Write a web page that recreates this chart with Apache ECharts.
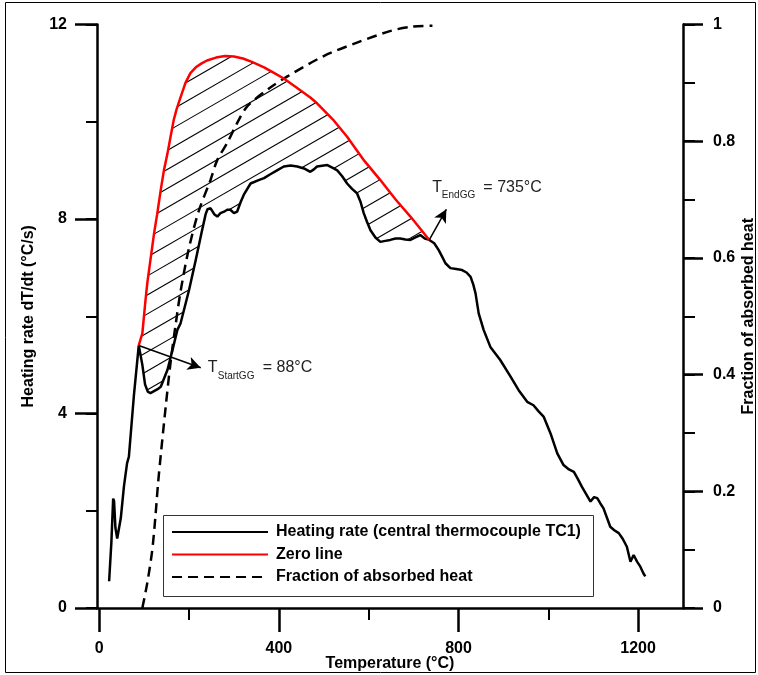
<!DOCTYPE html>
<html><head><meta charset="utf-8">
<script src="https://cdn.jsdelivr.net/npm/echarts@6/dist/echarts.min.js"></script>
<style>html,body{margin:0;padding:0;background:#fff}#c{width:758px;height:675px}</style>
</head><body><div id="c"></div>
<script>
// ---- data ----
const heatT = [22,27,31,33,36,40,48,55,62,66,77,88,96,102,108,114,120,130,137,152,163,174,181,200,215,229,237,241,248,256,263,270,278,285,292,300,307,315,322,337,355,367,381,396,411,426,441,456,470,478,485,500,508,520,530,541,552,563,574,582,589,596,604,615,626,637,648,660,670,682,693,704,715,725,735,746,756,765,771,782,795,808,818,827,833,838,845,856,871,893,916,934,953,967,978,990,1005,1020,1034,1046,1057,1066,1075,1094,1102,1109,1116,1123,1138,1147,1157,1166,1175,1183,1190,1198,1205,1212,1216];
const heatV = [0.55,1.35,2.25,2.2,1.65,1.43,1.85,2.5,2.98,3.11,4.35,5.4,5.0,4.6,4.45,4.42,4.45,4.5,4.55,4.9,5.3,5.72,5.85,6.54,7.16,7.77,8.1,8.2,8.22,8.1,8.05,8.12,8.15,8.19,8.19,8.12,8.15,8.35,8.5,8.73,8.8,8.84,8.92,9.0,9.08,9.1,9.08,9.04,8.97,9.02,9.08,9.1,9.11,9.05,9.0,8.88,8.73,8.62,8.53,8.35,8.12,7.95,7.77,7.62,7.53,7.55,7.57,7.6,7.6,7.58,7.57,7.62,7.67,7.6,7.57,7.5,7.36,7.2,7.09,6.99,6.97,6.95,6.9,6.81,6.65,6.47,6.06,5.72,5.37,5.1,4.76,4.48,4.24,4.17,4.05,3.93,3.59,3.18,2.94,2.85,2.8,2.65,2.49,2.19,2.28,2.26,2.15,2.05,1.67,1.6,1.54,1.42,1.26,0.95,1.09,0.95,0.85,0.71,0.65];

const zeroT = [88,96,103,107,114,122,129,137,144,152,159,166,172,181,192,203,215,228,240,260,280,300,320,340,367,390,411,440,470,485,520,552,590,626,660,693,715,735];
const zeroV = [5.4,5.65,6.33,6.68,7.16,7.7,8.1,8.6,9.0,9.35,9.7,10.04,10.25,10.5,10.8,11.0,11.12,11.2,11.26,11.32,11.35,11.34,11.3,11.23,11.12,11.0,10.89,10.7,10.5,10.38,10.05,9.69,9.2,8.8,8.4,8.05,7.8,7.57];

const fracT = [96,107,118,125,131,137,148,159,170,181,199,221,248,263,285,307,330,381,419,500,574,649,693,742];
const fracV = [0,0.043,0.099,0.156,0.214,0.262,0.345,0.422,0.485,0.542,0.614,0.679,0.734,0.768,0.797,0.831,0.86,0.892,0.911,0.946,0.969,0.989,0.996,0.998];

const xMajorTicks = [0,400,800,1200];
const xMinorTicks = [200,600,1000];
const tStart = 88, vStart = 5.4, tEnd = 735, vEnd = 7.57;
const startArrowTip = [226, 4.94];
const endArrowTip = [773, 8.2];

const names = ['Heating rate (central thermocouple TC1)', 'Zero line', 'Fraction of absorbed heat'];

// ---- build ----
const FONT = '"Liberation Sans", Arial, Helvetica, sans-serif';
const pairs = (a, b) => a.map((t, i) => [t, b[i]]);

const hatchPoly = [];
zeroT.forEach((t, i) => { if (t >= tStart && t <= tEnd) hatchPoly.push([t, zeroV[i]]); });
for (let i = heatT.length - 1; i >= 0; i--) if (heatT[i] >= tStart && heatT[i] <= tEnd) hatchPoly.push([heatT[i], heatV[i]]);

function renderHatch(params, api) {
  const pts = hatchPoly.map(p => api.coord(p));
  const k = Math.tan(Math.PI / 6);
  const s = pts.map(p => p[1] + k * p[0]);
  const cmin = Math.min.apply(null, s), cmax = Math.max.apply(null, s);
  const step = 19;
  const children = [];
  for (let c = Math.ceil(cmin / step) * step; c < cmax; c += step) {
    const xs = [];
    for (let i = 0; i < pts.length; i++) {
      const j = (i + 1) % pts.length;
      const s1 = s[i] - c, s2 = s[j] - c;
      if ((s1 < 0 && s2 >= 0) || (s1 >= 0 && s2 < 0)) {
        const t = s1 / (s1 - s2);
        xs.push(pts[i][0] + t * (pts[j][0] - pts[i][0]));
      }
    }
    xs.sort((a, b) => a - b);
    for (let m = 0; m + 1 < xs.length; m += 2) {
      children.push({type: 'line', shape: {x1: xs[m], y1: c - k * xs[m], x2: xs[m + 1], y2: c - k * xs[m + 1]},
        style: {stroke: '#000', lineWidth: 1.1}});
    }
  }
  return {type: 'group', children};
}

const axisLbl = {fontFamily: FONT, fontWeight: 'bold', fontSize: 16, color: '#000'};
const nameSty = {fontFamily: FONT, fontWeight: 'bold', fontSize: 16, color: '#000'};
const lineSty = {color: '#000', width: 2.5};

const chart = echarts.init(document.getElementById('c'), null, {renderer: 'canvas'});
const option = {
  animation: false,
  backgroundColor: '#fff',
  grid: {left: 97, right: 75, top: 24.5, bottom: 67, containLabel: false, outerBoundsMode: 'none'},
  xAxis: [
    {type: 'value', min: -5, max: 1300, position: 'bottom',
     axisLine: {show: true, onZero: false, lineStyle: lineSty},
     axisTick: {show: true, customValues: xMajorTicks, length: 24, lineStyle: lineSty},
     axisLabel: {show: true, customValues: xMajorTicks, margin: 33, formatter: v => String(v), ...axisLbl},
     splitLine: {show: false},
     name: 'Temperature (°C)', nameLocation: 'middle', nameGap: 48, nameMoveOverlap: false, nameTextStyle: nameSty},
    {type: 'value', min: -5, max: 1300, position: 'bottom',
     axisLine: {show: false, onZero: false},
     axisTick: {show: true, customValues: xMinorTicks, length: 12, lineStyle: {color: '#000', width: 2}},
     axisLabel: {show: false}, splitLine: {show: false}}
  ],
  yAxis: [
    {type: 'value', min: 0, max: 12, interval: 4, position: 'left',
     axisLine: {show: true, onZero: false, lineStyle: lineSty},
     axisTick: {show: true, length: 22, lineStyle: lineSty},
     axisLabel: {margin: 30, ...axisLbl}, splitLine: {show: false},
     name: 'Heating rate dT/dt (°C/s)', nameLocation: 'middle', nameGap: 60, nameRotate: 90, nameMoveOverlap: false, nameTextStyle: nameSty},
    {type: 'value', min: 0, max: 12, interval: 2, position: 'left',
     axisLine: {show: false, onZero: false},
     axisTick: {show: true, length: 11, lineStyle: {color: '#000', width: 2}},
     axisLabel: {show: false}, splitLine: {show: false}},
    {type: 'value', min: 0, max: 1, interval: 0.2, position: 'right',
     axisLine: {show: true, onZero: false, lineStyle: lineSty},
     axisTick: {show: true, length: 20, lineStyle: lineSty},
     axisLabel: {margin: 30, ...axisLbl}, splitLine: {show: false},
     name: 'Fraction of absorbed heat', nameLocation: 'middle', nameGap: 58, nameRotate: 90, nameMoveOverlap: false, nameTextStyle: nameSty},
    {type: 'value', min: 0, max: 1, interval: 0.1, position: 'right',
     axisLine: {show: false, onZero: false},
     axisTick: {show: true, length: 12, lineStyle: {color: '#000', width: 2}},
     axisLabel: {show: false}, splitLine: {show: false}}
  ],
  legend: {
    data: names, orient: 'vertical', left: 166, top: 519, padding: 5, itemWidth: 96, itemHeight: 14, itemGap: 6.5,
    selectedMode: false, itemStyle: {opacity: 0},
    textStyle: {fontFamily: FONT, fontWeight: 'bold', fontSize: 16, color: '#000', padding: [0, 0, 0, 3]}
  },
  series: [
    {type: 'custom', name: 'hatch', xAxisIndex: 0, yAxisIndex: 0, data: [[tStart, vStart]], renderItem: renderHatch, silent: true, z: 1, clip: false},
    {type: 'line', name: names[0], xAxisIndex: 0, yAxisIndex: 0, data: pairs(heatT, heatV), symbol: 'none', showSymbol: false,
     lineStyle: {color: '#000', width: 2.5}, itemStyle: {color: '#000'}, z: 3,
     markLine: {silent: true, symbol: ['none', 'arrow'], symbolSize: [10, 13], label: {show: false},
       lineStyle: {color: '#000', width: 1.5, type: 'solid'},
       data: [[{coord: [tStart, vStart]}, {coord: startArrowTip}], [{coord: [tEnd, vEnd]}, {coord: endArrowTip}]]}},
    {type: 'line', name: names[1], xAxisIndex: 0, yAxisIndex: 0, data: pairs(zeroT, zeroV), symbol: 'none', showSymbol: false,
     lineStyle: {color: '#ff0000', width: 2.5}, itemStyle: {color: '#ff0000'}, z: 4},
    {type: 'line', name: names[2], xAxisIndex: 0, yAxisIndex: 2, data: pairs(fracT, fracV), symbol: 'none', showSymbol: false, smooth: 0.3,
     lineStyle: {color: '#000', width: 2.5, type: [10, 6]}, itemStyle: {color: '#000'}, z: 2}
  ]
};
chart.setOption(option);

const ps = chart.convertToPixel({gridIndex: 0}, startArrowTip);
const pe = chart.convertToPixel({gridIndex: 0}, endArrowTip);
const tf = (txt, x, y, size) => ({type: 'text', x: x, y: y, z: 10,
  style: {text: txt, font: size + 'px ' + FONT, fill: '#222', align: 'left', verticalAlign: 'middle', textAlign: 'left', textVerticalAlign: 'middle'}});
chart.setOption({graphic: [
  {type: 'rect', shape: {x: 5.5, y: 2.5, width: 750, height: 670}, style: {fill: 'none', stroke: '#000', lineWidth: 1}, z: 0},
  {type: 'rect', shape: {x: 163.5, y: 515.5, width: 430, height: 81}, style: {fill: 'none', stroke: '#333', lineWidth: 1}, z: 5},
  tf('T', ps[0] + 7, ps[1] + 0, 16),
  tf('StartGG', ps[0] + 17, ps[1] + 8, 10),
  tf('= 88°C', ps[0] + 62, ps[1] + 0, 16),
  tf('T', pe[0] - 14, pe[1] - 21.5, 16),
  tf('EndGG', pe[0] - 4.5, pe[1] - 14.5, 10),
  tf('= 735°C', pe[0] + 37, pe[1] - 21.5, 16)
]});
</script></body></html>
